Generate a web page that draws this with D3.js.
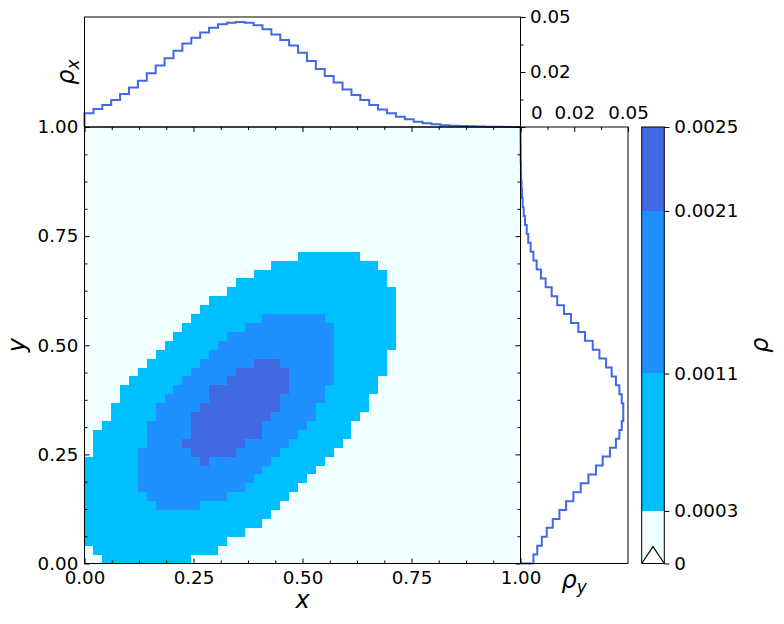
<!DOCTYPE html>
<html lang="en">
<head>
<meta charset="utf-8">
<script src="https://d3js.org/d3.v7.min.js"></script>
<style>
  body { margin: 0; background: #fff; font-family: "DejaVu Sans", sans-serif; }
  .tick text { font-family: "DejaVu Sans", sans-serif; font-size: 18.3px; fill: #000; }
  .tick line { stroke: #000; stroke-width: 1; }
  .lab { font-family: "DejaVu Sans", sans-serif; font-style: italic; font-size: 24px; fill: #000; }
</style>
</head>
<body>
<script>
// ---- data ----
const binCount = 49;
const axisTicks = [0, 0.25, 0.5, 0.75, 1];
const margTicks = [0, 0.025, 0.05];
const margLabels = ["0", "0.02", "0.05"];
const levelValues = [0, 0.000307, 0.00111, 0.00206, 0.00255];
const levelLabels = ["0", "0.0003", "0.0011", "0.0021", "0.0025"];
const levelColors = ["#f0ffff", "#00bfff", "#1e90ff", "#4169e1"];

// filled bands of the 2d histogram: [row, first bin, last bin + 1]
const band1 = [
  [0, 2, 12], [1, 1, 15], [2, 0, 16], [3, 0, 18], [4, 0, 20], [5, 0, 21], [6, 0, 22],
  [7, 0, 23], [8, 0, 24], [9, 0, 25], [10, 0, 26], [11, 0, 27], [12, 1, 28], [13, 1, 29],
  [14, 1, 30], [15, 2, 30], [16, 3, 31], [17, 3, 32], [18, 4, 32], [19, 4, 33], [20, 5, 33],
  [21, 6, 34], [22, 7, 34], [23, 8, 34], [24, 9, 35], [25, 10, 35], [26, 11, 35], [27, 12, 35],
  [28, 13, 35], [29, 14, 35], [30, 16, 35], [31, 17, 34], [32, 19, 34], [33, 21, 33], [34, 24, 31]
];
const band2 = [
  [6, 8, 13], [7, 7, 16], [8, 6, 18], [9, 6, 19], [10, 6, 20], [11, 6, 21], [12, 6, 22],
  [13, 7, 23], [14, 7, 24], [15, 7, 25], [16, 8, 26], [17, 8, 26], [18, 9, 27], [19, 10, 27],
  [20, 11, 28], [21, 12, 28], [22, 13, 28], [23, 14, 28], [24, 15, 28], [25, 16, 28],
  [26, 18, 28], [27, 20, 27]
];
const band3 = [
  [11, 13, 14], [12, 12, 17], [13, 11, 18], [14, 12, 20], [15, 12, 20], [16, 12, 21],
  [17, 13, 22], [18, 14, 22], [19, 14, 23], [20, 16, 23], [21, 17, 23], [22, 19, 22]
];

// marginal densities per bin
const rhoX = [0.0062, 0.0082, 0.0100, 0.0123, 0.0150, 0.0180, 0.0210, 0.0244, 0.0279, 0.0312,
  0.0347, 0.0380, 0.0406, 0.0430, 0.0451, 0.0467, 0.0474, 0.0477, 0.0474, 0.0462,
  0.0444, 0.0421, 0.0395, 0.0370, 0.0338, 0.0300, 0.0264, 0.0232, 0.0202, 0.0171,
  0.0145, 0.0123, 0.0100, 0.0080, 0.0062, 0.0047, 0.0035, 0.0024, 0.0017, 0.0012,
  0.0008, 0.0006, 0.0004, 0.0003, 0.0002, 0.0001, 0.0001, 0.00005, 0];
const rhoY = [0.0060, 0.0078, 0.0099, 0.0122, 0.0150, 0.0181, 0.0212, 0.0246, 0.0280, 0.0316,
  0.0351, 0.0382, 0.0416, 0.0444, 0.0460, 0.0471, 0.0478, 0.0478, 0.0471, 0.0460,
  0.0444, 0.0424, 0.0398, 0.0367, 0.0336, 0.0300, 0.0269, 0.0235, 0.0202, 0.0171,
  0.0145, 0.0117, 0.0095, 0.0075, 0.0060, 0.0047, 0.0036, 0.0029, 0.0021, 0.0015,
  0.0010, 0.0007, 0.0005, 0.0003, 0.0002, 0.0001, 0.0001, 0.00005, 0];

// ---- layout ----
const svg = d3.select("body").append("svg").attr("width", 784).attr("height", 624);

const x = d3.scaleLinear().domain([0, 1]).range([84.5, 520.5]);
const y = d3.scaleLinear().domain([0, 1]).range([563.5, 127]);
const yTop = d3.scaleLinear().domain([0, 0.05]).range([127, 17]);
const xRight = d3.scaleLinear().domain([0, 0.05]).range([520.5, 628]);
const cbY = d3.scaleLinear().domain([0, levelValues[levelValues.length - 1]]).range([563.5, 127]);
const cbLeft = 641.7, cbRight = 664.3;

const minor = d3.range(0, 1.0001, 0.0625).filter(v => Math.abs(v * 4 - Math.round(v * 4)) > 1e-6);
const margMinor = [0.0125, 0.0375];

// ---- 2d histogram ----
svg.append("rect")
  .attr("x", x(0)).attr("y", y(1))
  .attr("width", x(1) - x(0)).attr("height", y(0) - y(1))
  .attr("fill", levelColors[0]);

[band1, band2, band3].forEach((band, k) => {
  svg.append("g").attr("shape-rendering", "crispEdges")
    .selectAll("rect").data(band).join("rect")
    .attr("x", d => x(d[1] / binCount))
    .attr("width", d => x(d[2] / binCount) - x(d[1] / binCount))
    .attr("y", d => y((d[0] + 1) / binCount))
    .attr("height", d => y(d[0] / binCount) - y((d[0] + 1) / binCount))
    .attr("fill", levelColors[k + 1]);
});

// ---- marginals (stairs) ----
function stairs(vals) {
  const pts = [[0, 0]];
  vals.forEach((v, i) => { pts.push([i / binCount, v], [(i + 1) / binCount, v]); });
  pts.push([1, 0]);
  return pts;
}
svg.append("path")
  .attr("d", d3.line().x(d => x(d[0])).y(d => yTop(d[1]))(stairs(rhoX)))
  .attr("fill", "none").attr("stroke", "#4169e1").attr("stroke-width", 2);
svg.append("path")
  .attr("d", d3.line().x(d => xRight(d[1])).y(d => y(d[0]))(stairs(rhoY)))
  .attr("fill", "none").attr("stroke", "#4169e1").attr("stroke-width", 2);

// ---- frames ----
const frame = (x0, y0, x1, y1) => svg.append("rect")
  .attr("x", x0).attr("y", y0).attr("width", x1 - x0).attr("height", y1 - y0)
  .attr("fill", "none").attr("stroke", "#000").attr("stroke-width", 1);
frame(x(0), y(1), x(1), y(0));
frame(x(0), yTop(0.05), x(1), yTop(0));
frame(xRight(0), y(1), xRight(0.05), y(0));

// ---- axes ----
function axis(gen, scale, values, size, fmt, pad, tx, ty) {
  const a = gen(scale).tickValues(values).tickSizeInner(size).tickSizeOuter(0)
    .tickPadding(pad).tickFormat(fmt || "");
  const g = svg.append("g").attr("transform", `translate(${tx},${ty})`).call(a);
  g.select(".domain").remove();
  return g;
}
const f2 = d3.format(".2f");
// main plot, ticks inward on all sides
axis(d3.axisBottom, x, axisTicks, -5, f2, 8, 0, y(0));
axis(d3.axisBottom, x, minor, -3, null, 8, 0, y(0));
axis(d3.axisLeft, y, axisTicks, -5, f2, 6.2, x(0), 0);
axis(d3.axisLeft, y, minor, -3, null, 6, x(0), 0);
axis(d3.axisTop, x, axisTicks, -5, null, 6, 0, y(1));
axis(d3.axisTop, x, minor, -3, null, 6, 0, y(1));
axis(d3.axisRight, y, axisTicks, -5, null, 6, x(1), 0);
axis(d3.axisRight, y, minor, -3, null, 6, x(1), 0);

// top marginal: outward ticks on the right
axis(d3.axisRight, yTop, margTicks, 5, (d, i) => i === 0 ? "" : margLabels[i], 4.5, x(1), 0);
axis(d3.axisRight, yTop, margMinor, 3, null, 4.5, x(1), 0);

// right marginal: inward ticks on top, labels above
const rt = axis(d3.axisTop, xRight, margTicks, -5, (d, i) => margLabels[i], 8.4, 0, y(1));
rt.selectAll(".tick text").filter((d, i) => i === 0)
  .attr("text-anchor", "start").attr("dx", 10);
axis(d3.axisTop, xRight, margMinor, -3, null, 8.4, 0, y(1));

// ---- colour bar ----
const cb = svg.append("g").attr("shape-rendering", "crispEdges");
levelColors.forEach((c, i) => {
  cb.append("rect")
    .attr("x", cbLeft).attr("width", cbRight - cbLeft)
    .attr("y", cbY(levelValues[i + 1]))
    .attr("height", cbY(levelValues[i]) - cbY(levelValues[i + 1]))
    .attr("fill", c);
});
svg.append("path")
  .attr("d", `M${cbLeft},${cbY(0)}L${(cbLeft + cbRight) / 2},${cbY(0) - 16.8}L${cbRight},${cbY(0)}`)
  .attr("fill", "#fff").attr("stroke", "#000").attr("stroke-width", 1.2);
frame(cbLeft, cbY(levelValues[4]), cbRight, cbY(0));
axis(d3.axisRight, cbY, levelValues, 5, (d, i) => levelLabels[i], 5, cbRight, 0);

// ---- labels ----
svg.append("text").attr("class", "lab").attr("x", (x(0) + x(1)) / 2).attr("y", 608)
  .attr("text-anchor", "middle").text("x");
svg.append("text").attr("class", "lab")
  .attr("transform", `translate(25,${(y(0) + y(1)) / 2}) rotate(-90)`)
  .attr("text-anchor", "middle").text("y");

const rx = svg.append("text").attr("class", "lab")
  .attr("transform", `translate(74,${(yTop(0) + yTop(0.05)) / 2}) rotate(-90)`)
  .attr("text-anchor", "middle");
rx.append("tspan").text("ρ");
rx.append("tspan").attr("font-size", "17px").attr("dy", 5).text("x");

const ry = svg.append("text").attr("class", "lab")
  .attr("x", (xRight(0) + xRight(0.05)) / 2).attr("y", 588)
  .attr("text-anchor", "middle");
ry.append("tspan").text("ρ");
ry.append("tspan").attr("font-size", "17px").attr("dy", 5).text("y");

svg.append("text").attr("class", "lab")
  .attr("transform", `translate(768,${(cbY(0) + cbY(levelValues[4])) / 2}) rotate(-90)`)
  .attr("text-anchor", "middle").text("ρ");
</script>
</body>
</html>
